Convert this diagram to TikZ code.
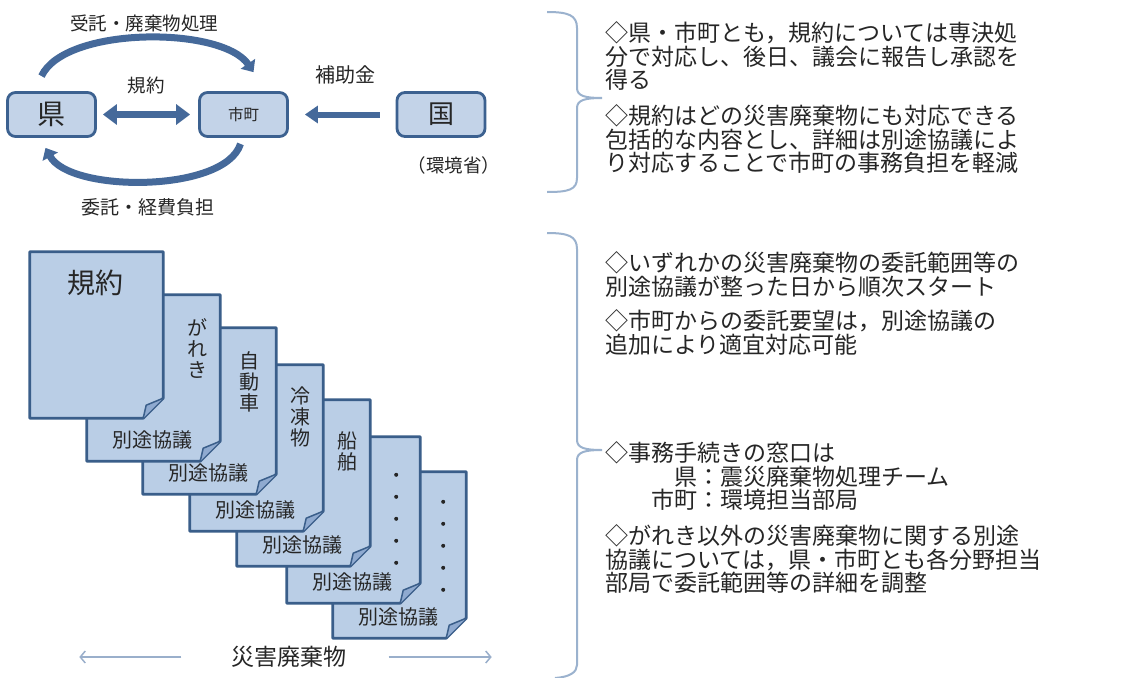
\documentclass[tikz,border=0pt]{standalone}
\usepackage{fontspec}
\setmainfont{Noto Sans CJK JP}
\usetikzlibrary{arrows.meta,calc}
\definecolor{boxfill}{HTML}{C3D3E8}
\definecolor{boxline}{HTML}{3C6190}
\definecolor{docfill}{HTML}{BACEE6}
\definecolor{docline}{HTML}{3A5E8A}
\definecolor{foldfill}{HTML}{8FAAD0}
\definecolor{arrblue}{HTML}{45699A}
\definecolor{bracecol}{HTML}{9BB2CE}
\definecolor{txt}{HTML}{262626}
\definecolor{thinarr}{HTML}{9AAFCB}
\newcommand\fsz[1]{\fontsize{#1}{#1}\selectfont}
\newcommand\pageshape[1]{%
  \filldraw[draw=docline, fill=docfill, line width=2.8pt, line join=round]
    (#1.north west) -- (#1.north east) -- ($(#1.south east)+(0,-20)$) -- ($(#1.south east)+(-20,0)$) -- (#1.south west) -- cycle;
  \filldraw[draw=docline, fill=foldfill, line width=1.5pt, line join=round]
    ($(#1.south east)+(0,-20)$) -- ($(#1.south east)+(-17,-13)$) -- ($(#1.south east)+(-20,0)$);}
\tikzset{
  orgbox/.style={draw=boxline, fill=boxfill, line width=2.8pt, rounded corners=8pt, minimum width=88pt, minimum height=44pt, inner sep=0pt, text=txt},
  lbl/.style={text=txt, inner sep=0pt},
  docpage/.style={minimum width=133pt, minimum height=166pt, inner sep=0pt},
  kyogi/.style={text=txt, inner sep=0pt, font=\fsz{20}},
  vtext/.style={text=txt, inner sep=0pt, align=center, anchor=north, font=\fontsize{20}{21}\selectfont},
  rtext/.style={text=txt, inner sep=0pt, align=left, anchor=north west, font=\fontsize{23}{23.5}\selectfont},
  bandarrow/.style={draw=arrblue, line width=7pt, -{Triangle[width=17pt,length=10pt]}},
  fatarrow/.style={draw=arrblue, line width=7pt},
  thinarrow/.style={draw=thinarr, line width=1.5pt, -{Straight Barb[length=5pt,width=12pt]}},
  bracepath/.style={draw=bracecol, line width=2pt}
}
\begin{document}
\begin{tikzpicture}[x=1pt,y=-1pt]
\useasboundingbox (0,0) rectangle (1121,677);
\fill[white] (0,0) rectangle (1121,677);

% ---- top diagram ----
\node[orgbox, font=\fsz{28}] (ken) at (51.5,114.5) {県};
\node[orgbox, font=\fsz{15.5}] (shicho) at (243.5,114.5) {市町};
\node[orgbox, font=\fsz{26}] (kuni) at (441,114.5) {国};
\node[lbl, font=\fsz{18.5}] (kankyo) at (454,165) {（環境省）};
\node[lbl, font=\fsz{18.5}] (l1) at (144,23) {受託・廃棄物処理};
\node[lbl, font=\fsz{19}] (l2) at (148,207) {委託・経費負担};
\node[lbl, font=\fsz{18.5}] (l3) at (146,85) {規約};
\node[lbl, font=\fsz{20}] (l4) at (345,75) {補助金};

\draw[fatarrow, {Triangle[width=20pt,length=14pt]}-{Triangle[width=20pt,length=14pt]}]
  ($(ken.east)+(6,0)$) -- ($(shicho.west)+(-8,0)$);
\draw[fatarrow, line width=6pt, -{Triangle[width=17pt,length=13pt]}]
  ($(kuni.west)+(-16,0)$) -- ($(shicho.east)+(16,0)$);
\draw[bandarrow] ($(ken.north)+(-10,-15)$) .. controls (65,26) and (222,26) .. ($(shicho.north)+(10,-19)$);
\draw[bandarrow] ($(shicho.south)+(-3,6)$) .. controls (225,193) and (70,193) .. ($(ken.south)+(-6,10)$);

% ---- documents ----
\node[docpage] (d7) at (399.5,555) {};
\pageshape{d7}
\node[kyogi] (k7) at ($(d7.south west)+(66,-21)$) {別途協議};
\foreach \i in {0,...,4} \fill[txt] ($(d7.north east)+(-23,30+\i*22)$) circle (2pt);

\node[docpage] (d6) at (353.5,520) {};
\pageshape{d6}
\node[kyogi] (k6) at ($(d6.south west)+(66,-21)$) {別途協議};
\foreach \i in {0,...,4} \fill[txt] ($(d6.north east)+(-24,38+\i*22)$) circle (2pt);

\node[docpage] (d5) at (303.5,483) {};
\pageshape{d5}
\node[kyogi] (k5) at ($(d5.south west)+(66,-21)$) {別途協議};
\node[vtext] (v5) at ($(d5.north east)+(-23,32)$) {船\\舶};

\node[docpage] (d4) at (256.5,448) {};
\pageshape{d4}
\node[kyogi] (k4) at ($(d4.south west)+(66,-21)$) {別途協議};
\node[vtext] (v4) at ($(d4.north east)+(-23,22)$) {冷\\凍\\物};

\node[docpage] (d3) at (209.5,411) {};
\pageshape{d3}
\node[kyogi] (k3) at ($(d3.south west)+(66,-21)$) {別途協議};
\node[vtext] (v3) at ($(d3.north east)+(-27,24)$) {自\\動\\車};

\node[docpage] (d2) at (153.5,378) {};
\pageshape{d2}
\node[kyogi] (k2) at ($(d2.south west)+(66,-21)$) {別途協議};
\node[vtext] (v2) at ($(d2.north east)+(-23,24)$) {が\\れ\\き};

\node[docpage] (d1) at (96.5,335) {};
\pageshape{d1}
\node[lbl, font=\fsz{28}] (kiyaku) at ($(d1.north west)+(66,31)$) {規約};

% ---- bottom axis ----
\node[lbl, font=\fsz{23}] (saigai) at (289,657) {災害廃棄物};
\draw[thinarrow] ($(saigai.west)+(-50,0)$) -- ++(-102,0);
\draw[thinarrow] ($(saigai.east)+(42,0)$) -- ++(103,0);

% ---- braces ----
\draw[bracepath] (547,12) .. controls (568,12) and (577,15) .. (577,28) -- (577,88)
  .. controls (577,96) and (585,98) .. (602,98) .. controls (585,98) and (577,100) .. (577,108)
  -- (577,178) .. controls (577,190) and (568,192) .. (547,192);
\draw[bracepath] (547,233) .. controls (568,233) and (577,236) .. (577,249) -- (577,440)
  .. controls (577,448) and (585,450) .. (602,450) .. controls (585,450) and (577,452) .. (577,460)
  -- (577,665) .. controls (577,672) and (570,677) .. (555,678);

% ---- right texts ----
\node[rtext] (t1) at (605,21.5) {◇県・市町とも，規約については専決処\\分で対応し、後日、議会に報告し承認を\\得る};
\node[rtext] (t2) at (605,104.5) {◇規約はどの災害廃棄物にも対応できる\\包括的な内容とし、詳細は別途協議によ\\り対応することで市町の事務負担を軽減};
\node[rtext] (t3) at (605,251.5) {◇いずれかの災害廃棄物の委託範囲等の\\別途協議が整った日から順次スタート};
\node[rtext] (t4) at (605,309.5) {◇市町からの委託要望は，別途協議の\\追加により適宜対応可能};
\node[rtext] (t5) at (605,441.5) {◇事務手続きの窓口は\\\hspace*{3em}県：震災廃棄物処理チーム\\\hspace*{2em}市町：環境担当部局};
\node[rtext] (t6) at (605,524.5) {◇がれき以外の災害廃棄物に関する別途\\協議については，県・市町とも各分野担当\\部局で委託範囲等の詳細を調整};
\end{tikzpicture}
\end{document}
